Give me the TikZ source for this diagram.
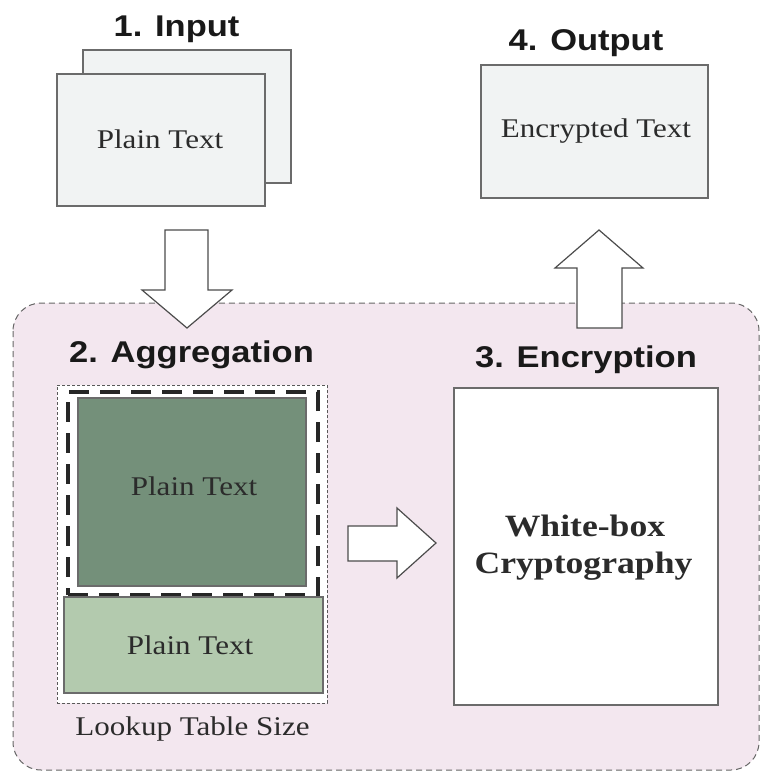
\documentclass[tikz,border=0pt]{standalone}
\usepackage{fontspec}
\setmainfont{Liberation Serif}
\newfontfamily\headfont{Liberation Sans}
\newcommand\wide[1]{\scalebox{1.15}[1]{#1}}
\definecolor{regionpink}{HTML}{F3E7EF}
\definecolor{paper}{HTML}{F1F3F3}
\definecolor{edge}{HTML}{6B6B6B}
\definecolor{darkleaf}{HTML}{74907A}
\definecolor{lightleaf}{HTML}{B3CAAE}
\definecolor{ink}{HTML}{2B2B2B}
\begin{document}
\begin{tikzpicture}[x=1pt,y=-1pt,
  heading/.style={font=\headfont\bfseries\fontsize{30}{34}\selectfont, text=black!90, inner sep=0, anchor=base},
  body/.style={font=\fontsize{27}{32}\selectfont, text=ink, inner sep=0, anchor=base},
  strong/.style={font=\bfseries\fontsize{31}{36}\selectfont, text=ink, inner sep=0, anchor=base},
  box/.style={draw=edge, line width=1.5pt, rectangle, inner sep=0},
  blockarrow/.style={draw=black!70, line width=1.2pt, fill=white, line join=miter}]
\useasboundingbox (0,0) rectangle (761,771);

% shaded stage region for aggregation and encryption
\draw[draw=black!60, line width=1pt, fill=regionpink, dash pattern=on 6pt off 4pt,
      rounded corners=28pt] (13,303) rectangle (759,770);

% 1. Input
\node[heading] (inhead) at (176.5,36) {\wide{1. Input}};
\node[box, fill=paper, minimum width=208pt, minimum height=133pt] (inback) at (187,116.5) {};
\node[box, fill=paper, minimum width=208pt, minimum height=132pt] (infront) at (161,140) {};
\node[body] (intext) at (160,148) {\wide{Plain Text}};

% 4. Output
\node[heading] (outhead) at (586,50) {\wide{4. Output}};
\node[box, fill=paper, minimum width=227pt, minimum height=133pt] (outbox) at (594.5,131.5) {};
\node[body] (outtext) at (596,137) {\wide{Encrypted Text}};

% 2. Aggregation
\node[heading] (agghead) at (191.5,362) {\wide{2. Aggregation}};
\node[draw=black!65, line width=1pt, dash pattern=on 3pt off 2pt, fill=white,
      minimum width=270pt, minimum height=318pt, inner sep=0] (table) at (192,544) {};
\node[draw=black!85, line width=4pt, dash pattern=on 20pt off 11pt,
      minimum width=250pt, minimum height=203pt, inner sep=0] (window) at (193,493.5) {};
\node[box, fill=darkleaf, minimum width=228pt, minimum height=188pt] (blockA) at (192,492) {};
\node[body] (blockAtext) at (194,495) {\wide{Plain Text}};
\node[box, fill=lightleaf, minimum width=259pt, minimum height=96pt] (blockB) at (193.5,645) {};
\node[body] (blockBtext) at (190,654) {\wide{Plain Text}};
\node[body] (tablesize) at (192.5,735) {\wide{Lookup Table Size}};

% 3. Encryption
\node[heading] (enchead) at (586,367) {\wide{3. Encryption}};
\node[box, fill=white, minimum width=264pt, minimum height=317pt] (wbox) at (586,546.5) {};
\node[strong] (wbline1) at (585,536) {\wide{White-box}};
\node[strong] (wbline2) at (583.5,573) {\wide{Cryptography}};

% block arrows between the stages
\draw[blockarrow] (165,230) -- (208,230) -- (208,290) -- (232,290) -- (187,328)
      -- (142,290) -- (165,290) -- cycle;
\draw[blockarrow] (348,526) -- (397,526) -- (397,508) -- (436,543) -- (397,578)
      -- (397,561) -- (348,561) -- cycle;
\draw[blockarrow] (577,328) -- (577,268) -- (555,268) -- (599,230) -- (643,268)
      -- (622,268) -- (622,328) -- cycle;
\end{tikzpicture}
\end{document}
